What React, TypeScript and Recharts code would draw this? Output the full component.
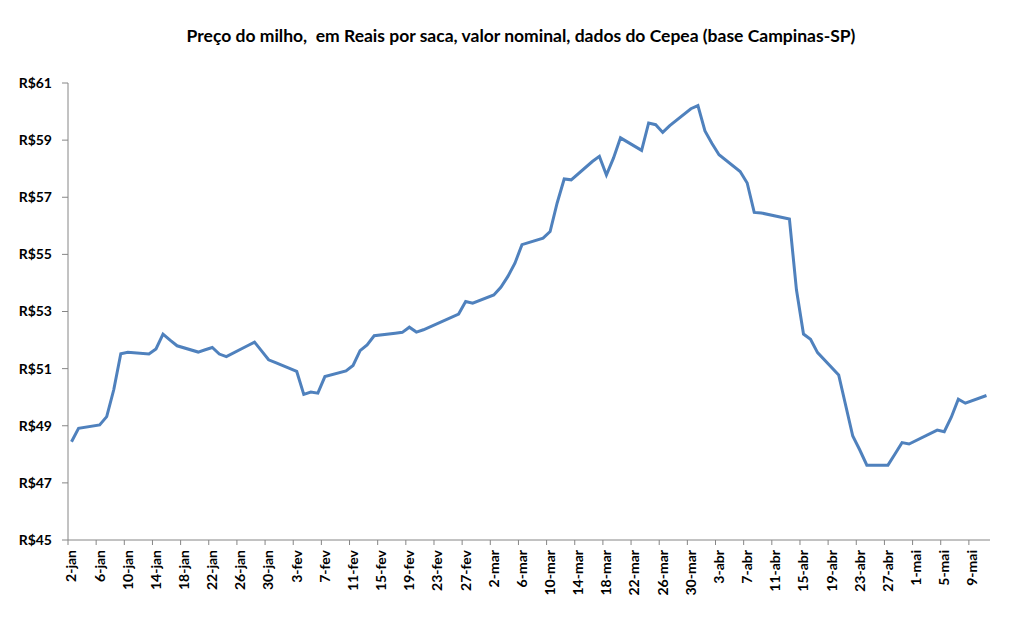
import { LineChart, Line, XAxis, YAxis } from "recharts"

// Cepea corn indicator, Campinas-SP, 2020 (R$ per 60kg sack)
const dates = [
  "2020-01-02", "2020-01-03", "2020-01-06", "2020-01-07", "2020-01-08", "2020-01-09", "2020-01-10",
  "2020-01-13", "2020-01-14", "2020-01-15", "2020-01-16", "2020-01-17",
  "2020-01-20", "2020-01-21", "2020-01-22", "2020-01-23", "2020-01-24",
  "2020-01-27", "2020-01-28", "2020-01-29", "2020-01-30", "2020-01-31",
  "2020-02-03", "2020-02-04", "2020-02-05", "2020-02-06", "2020-02-07",
  "2020-02-10", "2020-02-11", "2020-02-12", "2020-02-13", "2020-02-14",
  "2020-02-17", "2020-02-18", "2020-02-19", "2020-02-20", "2020-02-21",
  "2020-02-26", "2020-02-27", "2020-02-28",
  "2020-03-02", "2020-03-03", "2020-03-04", "2020-03-05", "2020-03-06",
  "2020-03-09", "2020-03-10", "2020-03-11", "2020-03-12", "2020-03-13",
  "2020-03-16", "2020-03-17", "2020-03-18", "2020-03-19", "2020-03-20",
  "2020-03-23", "2020-03-24", "2020-03-25", "2020-03-26", "2020-03-27",
  "2020-03-30", "2020-03-31", "2020-04-01", "2020-04-02", "2020-04-03",
  "2020-04-06", "2020-04-07", "2020-04-08", "2020-04-09",
  "2020-04-13", "2020-04-14", "2020-04-15", "2020-04-16", "2020-04-17",
  "2020-04-20", "2020-04-22", "2020-04-23", "2020-04-24",
  "2020-04-27", "2020-04-28", "2020-04-29", "2020-04-30",
  "2020-05-04", "2020-05-05", "2020-05-06", "2020-05-07", "2020-05-08",
  "2020-05-11",
]

const prices = [
  48.44, 48.91, 49.03, 49.32, 50.26, 51.52, 51.57,
  51.51, 51.69, 52.21, 52.0, 51.8,
  51.58, 51.66, 51.74, 51.51, 51.42,
  51.8, 51.93, 51.62, 51.31, 51.21,
  50.9, 50.1, 50.18, 50.14, 50.72,
  50.92, 51.11, 51.63, 51.83, 52.15,
  52.24, 52.27, 52.45, 52.28, 52.36,
  52.91, 53.35, 53.29,
  53.58, 53.85, 54.23, 54.69, 55.34,
  55.57, 55.8, 56.8, 57.64, 57.61,
  58.25, 58.43, 57.78, 58.37, 59.08,
  58.64, 59.6, 59.54, 59.27, 59.51,
  60.1, 60.21, 59.32, 58.88, 58.49,
  57.9, 57.5, 56.47, 56.45,
  56.24, 53.76, 52.21, 52.03, 51.56,
  50.78, 48.64, 48.15, 47.62,
  47.62, 48.01, 48.41, 48.36,
  48.85, 48.79, 49.3, 49.93, 49.79,
  50.06,
]

const months = ["jan", "fev", "mar", "abr", "mai"]
const yTicks = [45, 47, 49, 51, 53, 55, 57, 59, 61]

const START = Date.UTC(2020, 0, 2)
const DAY_MS = 86400000
const LAST_DAY = 130
const LABEL_STEP = 4

const toDay = (iso: string) => Math.round((Date.parse(iso + "T00:00:00Z") - START) / DAY_MS)

const data = dates.map((d, i) => ({ day: toDay(d), price: prices[i] }))

// tick marks sit on the day boundaries, labels in the middle of the day
const tickDays: number[] = []
for (let d = 0; d <= LAST_DAY; d += LABEL_STEP) tickDays.push(d - 0.5)

const W = 1012
const H = 631
const M = { top: 83, right: 22, left: 0, bottom: 0 }
const Y_W = 68
const X_H = 91
const PLOT_W = W - M.left - M.right - Y_W
const DAY_PX = PLOT_W / (LAST_DAY + 1)

const FONT = "Lato, 'Open Sans', sans-serif"
const AXIS = "#868686"

function dayLabel(day: number) {
  const dt = new Date(START + day * DAY_MS)
  return `${dt.getUTCDate()}-${months[dt.getUTCMonth()]}`
}

function DateTick(props: any) {
  const { x, y, payload } = props
  const cx = x + DAY_PX / 2
  return (
    <text
      x={cx}
      y={y}
      dy="0.35em"
      transform={`rotate(-90, ${cx}, ${y})`}
      textAnchor="end"
      fill="#000"
      fontSize={14}
      fontWeight={700}
      fontFamily={FONT}
    >
      {dayLabel(payload.value + 0.5)}
    </text>
  )
}

export default function App() {
  return (
    <div style={{ position: "absolute", left: 0, top: 0, width: W, height: H, background: "#fff" }}>
      <div
        style={{
          position: "absolute",
          left: 0,
          width: W,
          top: 25,
          paddingLeft: 30,
          boxSizing: "border-box",
          textAlign: "center",
          fontFamily: FONT,
          fontWeight: 700,
          fontSize: 17.5,
          color: "#000",
          whiteSpace: "pre",
        }}
      >
        {"Preço do milho,  em Reais por saca, valor nominal, dados do Cepea (base Campinas-SP)"}
      </div>
      <LineChart width={W} height={H} data={data} margin={M}>
        <XAxis
          type="number"
          dataKey="day"
          domain={[-0.5, LAST_DAY + 0.5]}
          ticks={tickDays}
          interval={0}
          height={X_H}
          tickSize={5}
          tickMargin={5}
          axisLine={{ stroke: AXIS }}
          tickLine={{ stroke: AXIS }}
          tick={<DateTick />}
        />
        <YAxis
          domain={[45, 61]}
          ticks={yTicks}
          interval={0}
          width={Y_W}
          tickSize={6}
          tickMargin={10}
          axisLine={{ stroke: AXIS }}
          tickLine={{ stroke: AXIS }}
          tickFormatter={(v: number) => `R$${v}`}
          tick={{ fill: "#000", fontSize: 14, fontWeight: 700, fontFamily: FONT }}
        />
        <Line
          type="linear"
          dataKey="price"
          stroke="#4F81BD"
          strokeWidth={3}
          dot={false}
          activeDot={false}
          isAnimationActive={false}
        />
      </LineChart>
    </div>
  )
}
